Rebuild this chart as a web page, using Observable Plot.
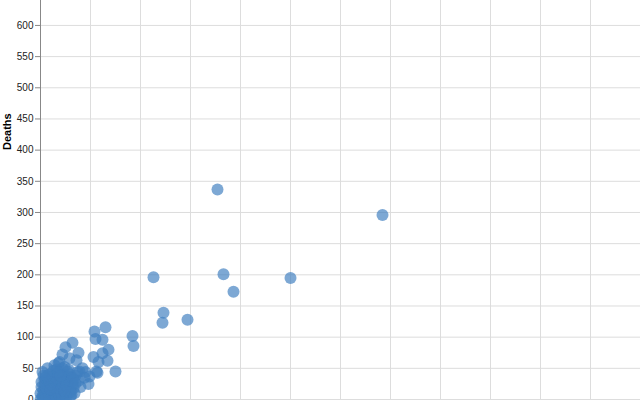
<!DOCTYPE html>
<html>
<head>
<meta charset="utf-8">
<script src="https://cdn.jsdelivr.net/npm/d3@7"></script>
<script src="https://cdn.jsdelivr.net/npm/@observablehq/plot@0.6"></script>
<style>
  html, body { margin: 0; padding: 0; background: #fff; }
  #chart { width: 640px; height: 400px; overflow: hidden; }
  svg { display: block; }
</style>
</head>
<body>
<div id="chart"></div>
<script>
// x-values (horizontal measure) and deaths for each event
const xValues = [
  177, 342, 113, 183, 193, 250, 123, 122, 147, 92,
  93, 65, 54, 55, 62, 68, 62, 53, 58, 67,
  75, 57, 49, 45, 32, 25, 22, 38, 36, 29,
  56, 42, 37, 18, 39, 33, 30,
  0, 2, 5, 3, 8, 10, 12, 6, 15, 18,
  20, 14, 22, 25, 28, 30, 9, 4, 16, 24,
  32, 35, 27, 12, 20, 1, 7, 40, 34, 38,
  17, 11, 19, 26, 44, 48, 21, 30, 3, 6,
  0, 1, 2, 4, 5, 7, 9, 11, 13, 14,
  16, 18, 19, 21, 23, 24, 26, 28, 29, 31,
  33, 8, 10, 12, 15, 17, 20, 22, 25, 27,
  2, 4, 6, 9, 13, 16, 19, 23, 26, 30,
  14, 18, 22, 10, 6, 28, 32, 35, 24, 20
];
const deaths = [
  337, 296, 196, 201, 173, 195, 139, 123, 128, 102,
  86, 116, 109, 97, 96, 80, 74, 68, 60, 62,
  45, 43, 37, 44, 91, 84, 72, 75, 63, 66,
  45, 50, 44, 58, 45, 31, 36,
  0, 3, 8, 15, 5, 12, 20, 25, 10, 18,
  28, 35, 40, 22, 30, 15, 40, 30, 48, 52,
  25, 38, 45, 2, 5, 20, 50, 20, 10, 30,
  30, 28, 60, 12, 35, 25, 0, 5, 38, 4,
  10, 28, 6, 22, 35, 14, 2, 8, 15, 26,
  4, 12, 22, 9, 18, 32, 4, 20, 40, 8,
  18, 32, 24, 38, 1, 42, 14, 50, 6, 36,
  44, 0, 18, 28, 46, 34, 6, 28, 22, 12,
  55, 44, 2, 16, 38, 48, 34, 26, 14, 38
];
const yTicks = [0, 50, 100, 150, 200, 250, 300, 350, 400, 450, 500, 550, 600];
const xTicks = [0, 50, 100, 150, 200, 250, 300, 350, 400, 450, 500, 550, 600];
const yLabel = "Deaths";

const data = xValues.map((x, i) => ({x, deaths: deaths[i]}));

const chart = Plot.plot({
  width: 640,
  height: 400,
  marginLeft: 40,
  marginRight: 0,
  marginTop: 0,
  marginBottom: 1,
  style: {fontFamily: "'Liberation Sans', Arial, sans-serif", background: "#fff"},
  x: {domain: [0, 600], axis: null},
  y: {domain: [0, 640], axis: null},
  marks: [
    Plot.gridX(xTicks, {stroke: "#ddd", strokeOpacity: 1}),
    Plot.gridY(yTicks, {stroke: "#ddd", strokeOpacity: 1}),
    Plot.ruleX([0], {stroke: "#888"}),
    Plot.axisY({
      ticks: yTicks,
      tickSize: 5,
      tickPadding: 2,
      stroke: "#888",
      fill: "#222",
      fontSize: 10,
      label: null
    }),
    Plot.text([yLabel], {
      frameAnchor: "left",
      rotate: -90,
      dx: -33,
      dy: -50,
      fontSize: 11,
      fontWeight: "bold",
      fill: "#000",
      text: d => d
    }),
    Plot.dot(data, {
      x: "x",
      y: "deaths",
      r: 6,
      fill: "#3f7fbf",
      fillOpacity: 0.68,
      stroke: "none"
    })
  ]
});
document.getElementById("chart").append(chart);
</script>
</body>
</html>
